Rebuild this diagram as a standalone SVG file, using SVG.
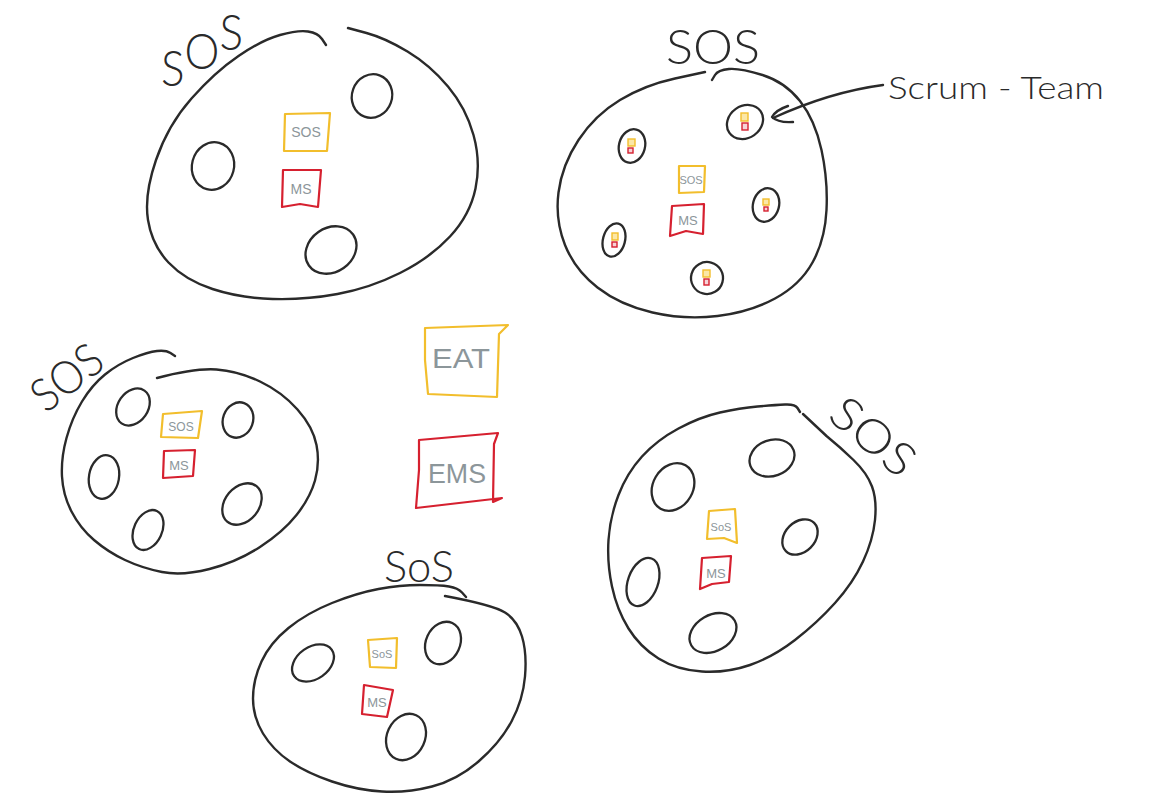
<svg xmlns="http://www.w3.org/2000/svg" width="1150" height="812" viewBox="0 0 1150 812">
<style>
.ink{fill:none;stroke:#2a2a2a;stroke-width:2.4;stroke-linecap:round;stroke-linejoin:round}
.team{fill:none;stroke:#2a2a2a;stroke-width:2.3}
.y{fill:none;stroke:#f2be2c;stroke-width:2.2;stroke-linejoin:round}
.r{fill:none;stroke:#d6202f;stroke-width:2.2;stroke-linejoin:round}
.ys{fill:#fbe7a6;stroke:#f2be2c;stroke-width:1.4}
.rs{fill:#f6d3d8;stroke:#d6202f;stroke-width:1.4}
.lbl{font-family:"Lato","Liberation Sans",sans-serif;font-weight:300;fill:#2a2a2a}
.bt{font-family:"Liberation Sans",sans-serif;fill:#8c969a;text-anchor:middle}
</style>
<rect width="1150" height="812" fill="#ffffff"/>

<g id="sos-top-left">
<path class="ink" d="M326,45 L322,39 Q318,33 308,31.5 Q298,30 280,35 Q262,40 238.5,56 Q215,72 191.5,98.5 Q168,125 156,160 Q144,195 148,220 Q152,245 168.5,262.5 Q185,280 212.5,289 Q240,298 272.5,299 Q305,300 337.5,294 Q370,288 400,273 Q430,258 450,236.5 Q470,215 475.5,188.5 Q481,162 473.5,135 Q466,108 448,86.5 Q430,65 407.5,51.5 Q385,38 366.5,33 L348,28"/>
<text class="lbl" x="161" y="86" font-size="50" textLength="82" lengthAdjust="spacingAndGlyphs">S<tspan dy="-17">O</tspan><tspan dy="-19">S</tspan></text>
<ellipse class="team" cx="372" cy="96" rx="20" ry="22" transform="rotate(20 372 96)"/>
<ellipse class="team" cx="213" cy="166" rx="21" ry="24" transform="rotate(15 213 166)"/>
<ellipse class="team" cx="331" cy="250" rx="27" ry="22" transform="rotate(-35 331 250)"/>
<path class="y" d="M285,114 L330,113 L327,151 L284,151 Z"/>
<text class="bt" x="306" y="137" font-size="14">SOS</text>
<path class="r" d="M283,170 L321,170 L318,207 L300,204 L282,207 Z"/>
<text class="bt" x="301" y="194" font-size="14">MS</text>
</g>

<g id="sos-top-right">
<path class="ink" d="M712,80 L715,75 Q718,70 729,69 Q740,68 762.5,75 Q785,82 800,101 Q815,120 821.5,150 Q828,180 826.5,210 Q825,240 812.5,262.5 Q800,285 775,298.5 Q750,312 717.5,316 Q685,320 652.5,312.5 Q620,305 597.5,287.5 Q575,270 565,245 Q555,220 558.5,192.5 Q562,165 578.5,140 Q595,115 620,100 Q645,85 675,78.5 L705,72"/>
<text class="lbl" x="666" y="64" font-size="48" textLength="94" lengthAdjust="spacingAndGlyphs">SOS</text>
<ellipse class="team" cx="745" cy="122" rx="19" ry="16" transform="rotate(-35 745 122)"/>
<rect class="ys" x="741" y="113" width="7" height="8"/><rect class="rs" x="742" y="123" width="6" height="7"/>
<ellipse class="team" cx="632" cy="146" rx="13" ry="17" transform="rotate(15 632 146)"/>
<rect class="ys" x="628" y="139" width="7" height="7"/><rect class="rs" x="628" y="148" width="5" height="5"/>
<ellipse class="team" cx="766" cy="205" rx="13" ry="17" transform="rotate(15 766 205)"/>
<rect class="ys" x="763" y="199" width="6" height="6"/><rect class="rs" x="764" y="207" width="4" height="4"/>
<ellipse class="team" cx="614" cy="240" rx="11" ry="17" transform="rotate(15 614 240)"/>
<rect class="ys" x="612" y="233" width="6" height="7"/><rect class="rs" x="612" y="242" width="5" height="5"/>
<ellipse class="team" cx="707" cy="278" rx="16" ry="16" transform="rotate(-30 707 278)"/>
<rect class="ys" x="703" y="270" width="7" height="7"/><rect class="rs" x="704" y="279" width="5" height="6"/>
<path class="y" d="M679,166 L705,166 L704,192 L679,193 Z"/>
<text class="bt" x="691" y="184" font-size="11">SOS</text>
<path class="r" d="M672,206 L704,204 L703,234 L686,231 L670,236 Z"/>
<text class="bt" x="688" y="225" font-size="13">MS</text>
<text class="lbl" x="888" y="99" font-size="32" textLength="216" lengthAdjust="spacingAndGlyphs">Scrum - Team</text>
</g>

<g id="sos-middle-left">
<path class="ink" d="M175,356 L170.5,353 Q166,350 157,351 Q148,352 133,358 Q118,364 105,374.5 Q92,385 82,401.5 Q72,418 66.5,438 Q61,458 62,476.5 Q63,495 71.5,511.5 Q80,528 94,540 Q108,552 125,560 Q142,568 162,572 Q182,576 209.5,569 Q237,562 260,547 Q283,532 296.5,515 Q310,498 315,480.5 Q320,463 316.5,445 Q313,427 297.5,409.5 Q282,392 260,381.5 Q238,371 216.5,369.5 Q195,368 157,378"/>
<text class="lbl" x="46" y="414" font-size="46" textLength="78" lengthAdjust="spacingAndGlyphs" transform="rotate(-38 46 414)">SOS</text>
<ellipse class="team" cx="133" cy="407" rx="15" ry="20" transform="rotate(35 133 407)"/>
<ellipse class="team" cx="238" cy="420" rx="15" ry="18" transform="rotate(20 238 420)"/>
<ellipse class="team" cx="104" cy="477" rx="15" ry="22" transform="rotate(10 104 477)"/>
<ellipse class="team" cx="148" cy="530" rx="14" ry="21" transform="rotate(25 148 530)"/>
<ellipse class="team" cx="242" cy="504" rx="17" ry="23" transform="rotate(40 242 504)"/>
<path class="y" d="M163,414 L202,411 L198,438 L161,437 Z"/>
<text class="bt" x="181" y="431" font-size="12">SOS</text>
<path class="r" d="M164,451 L195,450 L193,476 L163,478 Z"/>
<text class="bt" x="179" y="470" font-size="13">MS</text>
</g>

<g id="sos-bottom-center">
<path class="ink" d="M466,597 L462,592.5 Q458,588 449,586.5 Q440,585 420,585 Q400,585 378.5,589 Q357,593 332,603 Q307,613 288.5,628 Q270,643 261.5,661.5 Q253,680 253,698.5 Q253,717 263,733.5 Q273,750 290,761.5 Q307,773 332,781.5 Q357,790 382,791.5 Q407,793 432,786.5 Q457,780 478.5,761.5 Q500,743 511.5,721.5 Q523,700 525,676.5 Q527,653 522,636.5 Q517,620 505,612.5 Q493,605 445,596"/>
<text class="lbl" x="384" y="582" font-size="44" textLength="70" lengthAdjust="spacingAndGlyphs">SoS</text>
<ellipse class="team" cx="313" cy="663" rx="23" ry="16" transform="rotate(-35 313 663)"/>
<ellipse class="team" cx="443" cy="643" rx="17" ry="22" transform="rotate(25 443 643)"/>
<ellipse class="team" cx="406" cy="737" rx="19" ry="24" transform="rotate(25 406 737)"/>
<path class="y" d="M368,640 L397,638 L396,668 L370,667 Z"/>
<text class="bt" x="382" y="658" font-size="11">SoS</text>
<path class="r" d="M364,685 L393,690 L387,717 L362,714 Z"/>
<text class="bt" x="377" y="707" font-size="13">MS</text>
</g>

<g id="sos-bottom-right">
<path class="ink" d="M800,412 L797.5,408 Q795,404 785,404.5 Q775,405 757.5,406.5 Q740,408 720,412.5 Q700,417 678.5,428.5 Q657,440 642,456.5 Q627,473 618.5,495 Q610,517 608.5,540 Q607,563 612,586.5 Q617,610 628.5,628.5 Q640,647 658.5,658.5 Q677,670 702,671.5 Q727,673 750,665 Q773,657 795,640 Q817,623 835,603 Q853,583 863,561.5 Q873,540 875,520 Q877,500 872,486.5 Q867,473 853.5,460 Q840,447 826.5,436 L803,414"/>
<text class="lbl" x="826" y="418" font-size="46" textLength="96" lengthAdjust="spacingAndGlyphs" transform="rotate(40 826 418)">SOS</text>
<ellipse class="team" cx="772" cy="458" rx="23" ry="18" transform="rotate(-20 772 458)"/>
<ellipse class="team" cx="673" cy="487" rx="20" ry="25" transform="rotate(30 673 487)"/>
<ellipse class="team" cx="800" cy="537" rx="20" ry="15" transform="rotate(-45 800 537)"/>
<ellipse class="team" cx="643" cy="582" rx="15" ry="25" transform="rotate(20 643 582)"/>
<ellipse class="team" cx="713" cy="633" rx="25" ry="18" transform="rotate(-30 713 633)"/>
<path class="y" d="M709,511 L735,509 L737,543 L724,538 L707,539 Z"/>
<text class="bt" x="721" y="531" font-size="11">SoS</text>
<path class="r" d="M702,558 L731,556 L729,582 L712,584 L700,589 Z"/>
<text class="bt" x="716" y="578" font-size="13">MS</text>
</g>

<g id="eat">
<path class="y" d="M425,328 L508,325 L499,334 L497,397 L428,394 L425,360 Z"/>
<text class="bt" x="461" y="368" font-size="28" textLength="58" lengthAdjust="spacingAndGlyphs">EAT</text>
</g>

<g id="ems">
<path class="r" d="M419,440 L498,433 L494,444 L493,502 L502,498 L416,508 L419,470 Z"/>
<text class="bt" x="457" y="483" font-size="28" textLength="58" lengthAdjust="spacingAndGlyphs">EMS</text>
</g>

<g id="connectors">
<path class="ink" d="M883,85 Q830,92 773,118"/>
<path class="ink" d="M788,106 Q776,110 772,117 Q778,123 793,122"/>
</g>
</svg>
